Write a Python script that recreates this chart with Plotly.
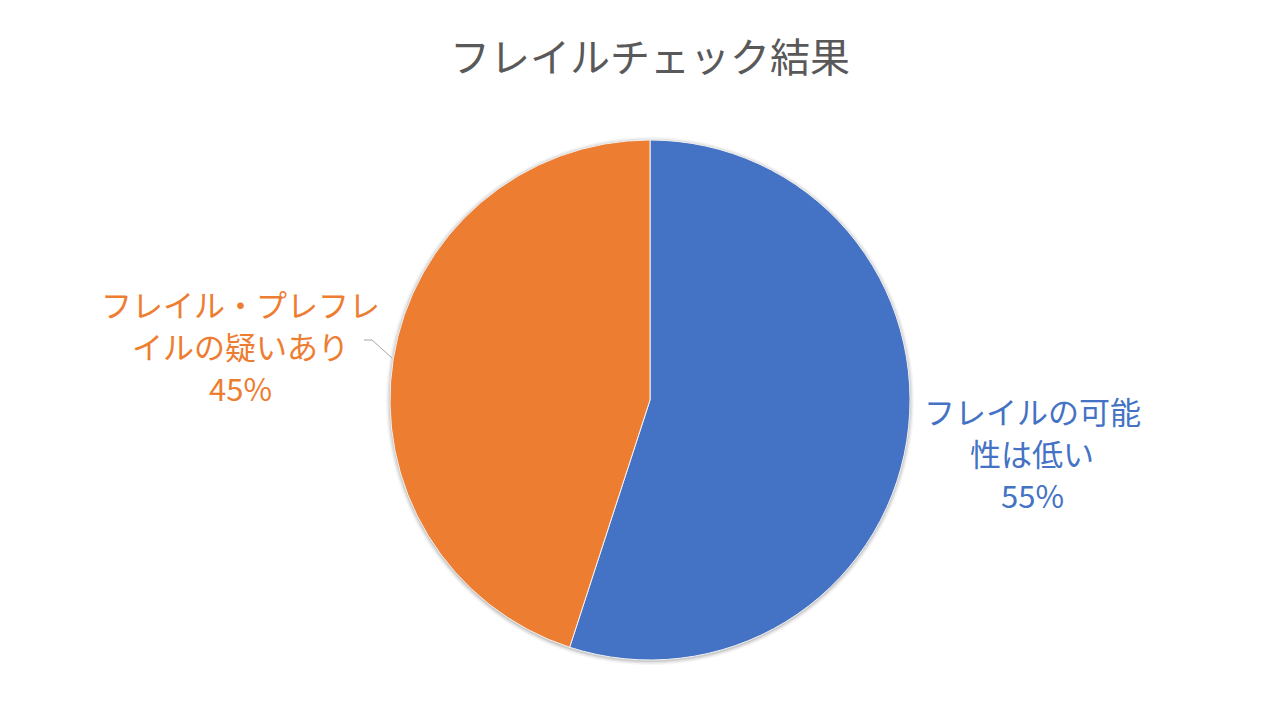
import plotly.graph_objects as go

title = "フレイルチェック結果"
labels = ["フレイルの可能<br>性は低い", "フレイル・プレフレ<br>イルの疑いあり"]
values = [55, 45]
colors = ["#4472C4", "#ED7D31"]

W, H = 1280, 720
OFF = 8  # page margin of the html body
font = "Noto Sans CJK JP"


def px(x):
    return (x - OFF) / W


def py(y):
    return 1 - (y - OFF) / H


fig = go.Figure()
fig.add_trace(go.Pie(
    labels=labels,
    values=values,
    sort=False,
    direction="clockwise",
    rotation=0,
    textinfo="none",
    hoverinfo="label+percent",
    marker=dict(colors=colors, line=dict(color="#f2f2f2", width=1)),
    domain=dict(x=[px(390), px(910)], y=[py(660), py(140)]),
    showlegend=False,
))

# labels placed like the original (outside the pie), one annotation per line
total = sum(values)
label_pos = [(1032, 410), (240, 303)]  # centre x, first line y
line_gap = 42
annotations = []
for lab, v, c, (lx, ly) in zip(labels, values, colors, label_pos):
    lines = lab.split("<br>") + [f"{round(v / total * 100)}%"]
    for i, line in enumerate(lines):
        annotations.append(dict(
            text=line,
            x=px(lx), y=py(ly + i * line_gap), xref="paper", yref="paper",
            xanchor="center", yanchor="middle",
            showarrow=False, align="center",
            font=dict(family=font, size=31, color=c),
        ))

# soft shadow around the pie
shapes = []
cx, cy, r = 650, 400, 260
for i, op in enumerate([0.10, 0.07, 0.04]):
    d = r + 1 + i * 1.5
    shapes.append(dict(
        type="circle", xref="paper", yref="paper", layer="below",
        x0=px(cx - d), x1=px(cx + d),
        y0=py(cy + d + 1), y1=py(cy - d + 1),
        fillcolor=f"rgba(0,0,0,{op})", line=dict(width=0),
    ))
# leader line for the orange label
shapes.append(dict(
    type="path", xref="paper", yref="paper",
    path=f"M {px(364)} {py(340)} L {px(372)} {py(340)} L {px(392)} {py(358)}",
    line=dict(color="#a6a6a6", width=1),
))

fig.update_layout(
    width=W, height=H,
    margin=dict(l=0, r=0, t=0, b=0),
    paper_bgcolor="white",
    plot_bgcolor="white",
    title=dict(text=title, x=px(650), xanchor="center", y=py(58), yanchor="middle",
               font=dict(family=font, size=40, color="#595959")),
    annotations=annotations,
    shapes=shapes,
)
fig.write_html("out.html")
